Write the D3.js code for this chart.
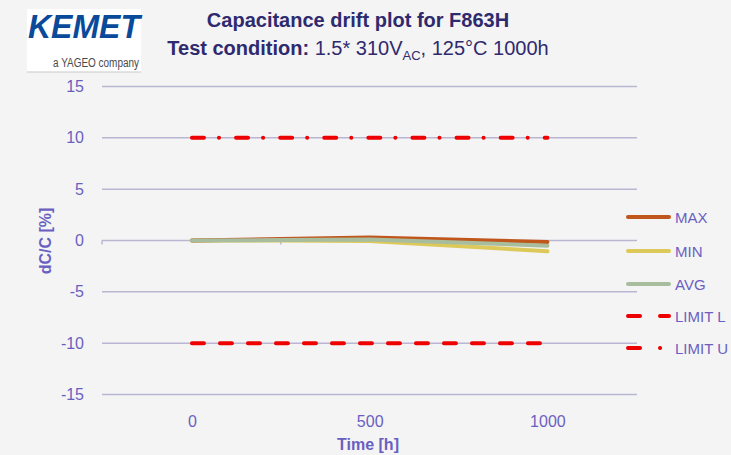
<!DOCTYPE html>
<html>
<head>
<meta charset="utf-8">
<script src="https://cdn.jsdelivr.net/npm/d3@7"></script>
<style>
  body { margin: 0; background: #f4f4f4; }
  svg { display: block; }
  text { font-family: "Liberation Sans", Arial, sans-serif; }
</style>
</head>
<body>
<div id="chart"></div>
<script>
// data
const hours = [0, 250, 500, 1000];
const maxVals = [0, 0.15, 0.3, -0.15];
const minVals = [0, 0.0, -0.05, -1.05];
const avgVals = [0, 0.05, 0.1, -0.5];
const limitHours = [0, 1000];
const limitLow = [-10, -10];
const limitUp = [10, 10];
const yTicks = [15, 10, 5, 0, -5, -10, -15];
const xTicks = [0, 500, 1000];

const W = 731, H = 455;
const svg = d3.select("#chart").append("svg").attr("width", W).attr("height", H);
svg.append("rect").attr("width", W).attr("height", H).attr("fill", "#f4f4f4");

const x = d3.scaleLinear().domain([-253, 1252]).range([102, 637]);
const y = d3.scaleLinear().domain([-15, 15]).range([394.5, 86.5]);

const labelColor = "#6a5fc1";

// gridlines
svg.append("g").selectAll("line").data(yTicks).join("line")
  .attr("x1", x.range()[0]).attr("x2", x.range()[1])
  .attr("y1", d => y(d)).attr("y2", d => y(d))
  .attr("stroke", "#b9b6d3").attr("stroke-width", 1.5);
// small tick marks on the zero line
svg.append("g").selectAll("line").data([-253, 250]).join("line")
  .attr("x1", d => x(d)).attr("x2", d => x(d))
  .attr("y1", y(0)).attr("y2", y(0) + 4)
  .attr("stroke", "#b9b6d3").attr("stroke-width", 1.5);

// y axis tick labels
const yAxis = d3.axisLeft(y).tickValues(yTicks).tickSize(0).tickPadding(18)
  .tickFormat(d => String(d));
svg.append("g").attr("transform", "translate(102,0)").call(yAxis)
  .call(g => g.select(".domain").remove())
  .selectAll("text").attr("fill", labelColor).style("font-size", "16px")
  .style("font-family", "'Liberation Sans', Arial, sans-serif");

// x axis tick labels
const xAxis = d3.axisBottom(x).tickValues(xTicks).tickSize(0).tickPadding(16)
  .tickFormat(d => String(d));
svg.append("g").attr("transform", "translate(0,400)").call(xAxis)
  .call(g => g.select(".domain").remove())
  .selectAll("text").attr("fill", labelColor).style("font-size", "16px")
  .style("font-family", "'Liberation Sans', Arial, sans-serif");

// axis titles
svg.append("text").attr("x", 368).attr("y", 450).attr("text-anchor", "middle")
  .attr("fill", labelColor).attr("font-weight", "bold").attr("font-size", 16)
  .text("Time [h]");
svg.append("text").attr("transform", "translate(51,241) rotate(-90)")
  .attr("text-anchor", "middle").attr("fill", labelColor)
  .attr("font-weight", "bold").attr("font-size", 16).text("dC/C [%]");

// series
const line = d3.line().x(d => x(d[0])).y(d => y(d[1]));
const series = [
  { name: "MAX", xs: hours, vals: maxVals, color: "#c0561c", dash: null },
  { name: "MIN", xs: hours, vals: minVals, color: "#dcc95a", dash: null },
  { name: "AVG", xs: hours, vals: avgVals, color: "#a8bd9d", dash: null },
  { name: "LIMIT L", xs: limitHours, vals: limitLow, color: "#ee0000", dash: "12,16" },
  { name: "LIMIT U", xs: limitHours, vals: limitUp, color: "#ee0000", dash: "12,15,0.1,17" }
];

// draw order so AVG sits on top as in the picture
[series[3], series[4], series[1], series[0], series[2]].forEach(s => {
  svg.append("path")
    .datum(s.xs.map((h, i) => [h, s.vals[i]]))
    .attr("d", line)
    .attr("fill", "none")
    .attr("stroke", s.color)
    .attr("stroke-width", 4)
    .attr("stroke-linecap", "round")
    .attr("stroke-dasharray", s.dash);
});

// legend
const legY = [217, 251, 284, 316, 348];
const leg = svg.append("g");
series.forEach((s, i) => {
  leg.append("line").attr("x1", 628).attr("x2", 669)
    .attr("y1", legY[i]).attr("y2", legY[i])
    .attr("stroke", s.color).attr("stroke-width", 4)
    .attr("stroke-linecap", "round")
    .attr("stroke-dasharray", s.name === "LIMIT L" ? "12,20" : (s.name === "LIMIT U" ? "12,20,0.1,40" : null));
  leg.append("text").attr("x", 675).attr("y", legY[i] + 6)
    .attr("fill", labelColor).attr("font-size", 15).text(s.name);
});

// title
const title = svg.append("g").attr("fill", "#2f2a6e");
title.append("text").attr("x", 358).attr("y", 27).attr("text-anchor", "middle")
  .attr("font-weight", "bold").attr("font-size", 20).text("Capacitance drift plot for F863H");
const t2 = title.append("text").attr("x", 358).attr("y", 55).attr("text-anchor", "middle")
  .attr("font-size", 20);
t2.append("tspan").attr("font-weight", "bold").text("Test condition: ");
t2.append("tspan").text("1.5* 310V");
t2.append("tspan").attr("font-size", 13).attr("dy", 5).text("AC");
t2.append("tspan").attr("dy", -5).text(", 125°C 1000h");

// logo
const logo = svg.append("g");
logo.append("rect").attr("x", 27).attr("y", 9).attr("width", 114).attr("height", 63).attr("fill", "#ffffff");
logo.append("line").attr("x1", 27).attr("x2", 141).attr("y1", 72).attr("y2", 72).attr("stroke", "#c8c8c8");
logo.append("text").attr("x", 84).attr("y", 38).attr("text-anchor", "middle")
  .attr("fill", "#0a4a9a").attr("font-weight", "bold").attr("font-style", "italic")
  .attr("font-size", 33).attr("textLength", 112).attr("lengthAdjust", "spacingAndGlyphs")
  .text("KEMET");
logo.append("text").attr("x", 139).attr("y", 67).attr("text-anchor", "end")
  .attr("fill", "#4a4a4a").attr("font-size", 12).attr("textLength", 86)
  .attr("lengthAdjust", "spacingAndGlyphs").text("a YAGEO company");
</script>
</body>
</html>
